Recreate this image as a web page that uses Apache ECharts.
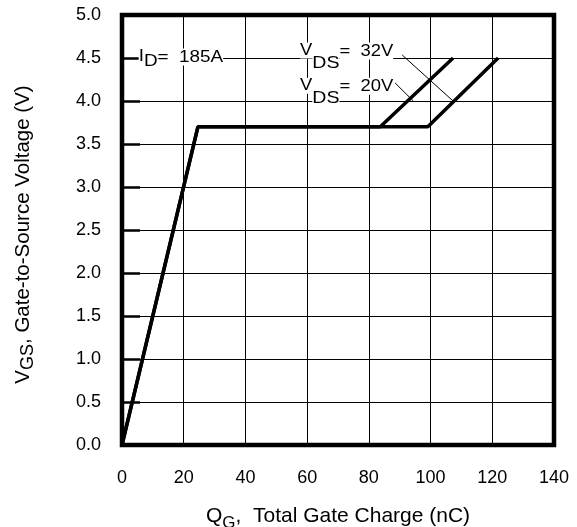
<!DOCTYPE html>
<html>
<head>
<meta charset="utf-8">
<script src="https://cdn.jsdelivr.net/npm/echarts@6/dist/echarts.min.js"></script>
<style>
  html, body { margin: 0; padding: 0; background: #fff; }
  #chart { width: 577px; height: 527px; }
</style>
</head>
<body>
<div id="chart"></div>
<script>
// Gate charge curves: V_GS versus Q_G, I_D = 185 A
const xTicks = [0, 20, 40, 60, 80, 100, 120, 140];
const yTicks = [0, 0.5, 1, 1.5, 2, 2.5, 3, 3.5, 4, 4.5, 5];

// V_DS = 32 V curve (nC, V)
const qg32 = [0, 24.6, 83.7, 107.3];
const vgs32 = [0, 3.7, 3.7, 4.5];
// V_DS = 20 V curve (nC, V)
const qg20 = [0, 24.6, 99.1, 121.9];
const vgs20 = [0, 3.7, 3.7, 4.5];

// Annotation leader lines (data space)
const leader32 = [[90.8, 4.535], [107.3, 4.0]];
const leader20 = [[88.5, 4.21], [94.4, 4.0]];

// Annotation text anchors (data space, top-left of text)
const labelId = { at: [5.4, 4.61], main: 'I', sub: 'D', rest: '=  185A' };
const label32 = { at: [57.7, 4.68], main: 'V', sub: 'DS', rest: '=  32V' };
const label20 = { at: [57.7, 4.27], main: 'V', sub: 'DS', rest: '=  20V' };

const FONT = '"Liberation Sans", Arial, Helvetica, sans-serif';

function zip(xs, ys) { return xs.map((x, i) => [x, ys[i]]); }

const chart = echarts.init(document.getElementById('chart'), null, { renderer: 'canvas' });

const curveStyle = { color: '#000', width: 3.5 };
const leaderStyle = { color: '#000', width: 1 };

function lineSeries(data, style) {
  return {
    type: 'line',
    data: data,
    symbol: 'none',
    lineStyle: style,
    animation: false,
    silent: true,
    z: 3
  };
}

const option = {
  backgroundColor: '#fff',
  animation: false,
  grid: {
    left: 122, right: 23, top: 15, bottom: 82,
    outerBoundsMode: 'none',
    containLabel: false,
    show: true, borderColor: '#000', borderWidth: 4.5, backgroundColor: 'transparent'
  },
  xAxis: {
    type: 'value', min: 0, max: 140, interval: 20,
    axisLine: { show: false },
    axisTick: { show: false },
    splitLine: { show: true, lineStyle: { color: '#000', width: 1 } },
    axisLabel: {
      margin: 24, color: '#000', fontSize: 18, fontFamily: FONT,
      formatter: v => xTicks.includes(v) ? String(v) : ''
    },
    name: '{m|Q}{s|G}{m|,  Total Gate Charge (nC)}',
    nameLocation: 'middle',
    nameGap: 61,
    nameTextStyle: {
      color: '#000', fontFamily: FONT,
      rich: {
        m: { fontSize: 21, lineHeight: 22, verticalAlign: 'top', fontFamily: FONT, color: '#000' },
        s: { fontSize: 17, lineHeight: 18, padding: [9, 0, 0, 0], verticalAlign: 'top', fontFamily: FONT, color: '#000' }
      }
    }
  },
  yAxis: {
    type: 'value', min: 0, max: 5, interval: 0.5,
    axisLine: { show: false },
    axisTick: { show: true, inside: true, length: 18, lineStyle: { color: '#000', width: 2.5 } },
    splitLine: { show: true, lineStyle: { color: '#000', width: 1 } },
    axisLabel: {
      margin: 21, color: '#000', fontSize: 18, fontFamily: FONT,
      formatter: v => yTicks.some(t => Math.abs(t - v) < 1e-9) ? v.toFixed(1) : ''
    },
    name: '{m|V}{s|GS}{m|, Gate-to-Source Voltage (V)}',
    nameLocation: 'middle',
    nameRotate: 90,
    nameGap: 87,
    nameTextStyle: {
      color: '#000', fontFamily: FONT,
      padding: [0, 9, 0, 0],
      rich: {
        m: { fontSize: 20.5, lineHeight: 22, verticalAlign: 'top', fontFamily: FONT, color: '#000' },
        s: { fontSize: 18, lineHeight: 19, padding: [6, 0, 0, 0], verticalAlign: 'top', fontFamily: FONT, color: '#000' }
      }
    }
  },
  series: [
    lineSeries(zip(qg32, vgs32), curveStyle),
    lineSeries(zip(qg20, vgs20), curveStyle),
    lineSeries(leader32, leaderStyle),
    lineSeries(leader20, leaderStyle)
  ]
};

chart.setOption(option);

// Text annotations with subscripts, placed from data-space anchors
function annotation(lbl, subShift, mainSize, subSize, restSize, stretch) {
  const p = chart.convertToPixel({ gridIndex: 0 }, lbl.at);
  return {
    type: 'text',
    x: p[0], y: p[1],
    scaleX: stretch,
    z: 10,
    silent: true,
    style: {
      text: '{m|' + lbl.main + '}{s|' + lbl.sub + '}{r|' + lbl.rest + '}',
      fill: '#000',
      font: '16px ' + FONT,
      rich: {
        m: { font: mainSize + 'px ' + FONT, lineHeight: mainSize + 2, verticalAlign: 'top', fill: '#000', backgroundColor: '#fff' },
        s: { font: subSize + 'px ' + FONT, lineHeight: subSize + 2, padding: [subShift, 0, 0, 0], verticalAlign: 'top', fill: '#000', backgroundColor: '#fff' },
        r: { font: restSize + 'px ' + FONT, lineHeight: restSize + 2, padding: [1, 0, 0, 0], verticalAlign: 'top', fill: '#000', backgroundColor: '#fff' }
      }
    }
  };
}

chart.setOption({
  graphic: [
    annotation(labelId, 5, 16, 16, 16, 1.18),
    annotation(label32, 12, 16, 17, 16, 1.15),
    annotation(label20, 12, 16, 17, 16, 1.15)
  ]
});
</script>
</body>
</html>
